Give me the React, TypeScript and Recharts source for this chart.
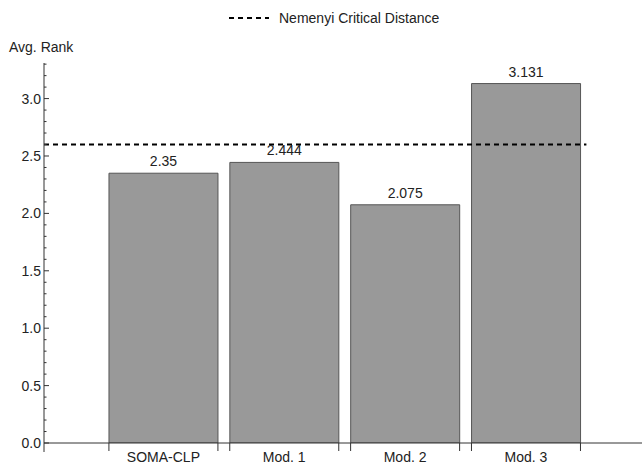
import { BarChart, Bar, XAxis, YAxis, ReferenceLine, LabelList } from 'recharts';

const categories = ['SOMA-CLP', 'Mod. 1', 'Mod. 2', 'Mod. 3'];
const positions = [1, 2, 3, 4];
const avgRank = [2.35, 2.444, 2.075, 3.131];
const criticalDistance = 2.6;
const yTicks = [
    0, 0.1, 0.2, 0.3, 0.4, 0.5, 0.6, 0.7, 0.8, 0.9, 1.0, 1.1, 1.2, 1.3, 1.4, 1.5, 1.6,
    1.7, 1.8, 1.9, 2.0, 2.1, 2.2, 2.3, 2.4, 2.5, 2.6, 2.7, 2.8, 2.9, 3.0, 3.1, 3.2, 3.3,
];

const data = categories.map((name, i) => ({ pos: positions[i], name, rank: avgRank[i] }));

const FONT = 'Liberation Sans, Arial, sans-serif';
const TEXT = '#222';

function XTick({ x, y, payload }: any) {
    const idx = positions.indexOf(payload.value);
    const half = 54.5;
    return (
        <g>
            <line x1={x - half} x2={x - half} y1={y} y2={y + 8} stroke="#333" />
            <line x1={x + half} x2={x + half} y1={y} y2={y + 8} stroke="#333" />
            <text x={x} y={y + 19} textAnchor="middle" fontSize={14} fontFamily={FONT} fill={TEXT}>
                {categories[idx]}
            </text>
        </g>
    );
}

function YTick({ x, y, payload }: any) {
    const v = payload.value;
    const major = Math.abs(v * 2 - Math.round(v * 2)) < 1e-6;
    return (
        <g>
            <line x1={x} x2={x + (major ? 5 : 2.5)} y1={y} y2={y} stroke="#333" />
            {v === 0 && <line x1={x} x2={x} y1={y} y2={y + 9} stroke="#333" />}
            {major && (
                <text x={x - 3} y={y + 5} textAnchor="end" fontSize={14} fontFamily={FONT} fill={TEXT}>
                    {v.toFixed(1)}
                </text>
            )}
        </g>
    );
}

// legend drawn outside recharts so it doesn't eat plot space
function CdLegend() {
    return (
        <div
            style={{
                position: 'absolute', top: 10, left: 229, display: 'flex', alignItems: 'center',
                fontFamily: FONT, fontSize: 14, color: TEXT, lineHeight: '16px',
            }}
        >
            <svg width={40} height={4}>
                <line x1={0} x2={40} y1={2} y2={2} stroke="#000" strokeWidth={2} strokeDasharray="5 4" />
            </svg>
            <span style={{ marginLeft: 10 }}>Nemenyi Critical Distance</span>
        </div>
    );
}

export default function App() {
    return (
        <div style={{ position: 'absolute', left: 0, top: 0, width: 642, height: 465, background: '#fff' }}>
            <BarChart width={642} height={465} data={data} margin={{ top: 63, right: 0, bottom: 0, left: 0 }}>
                <XAxis
                    dataKey="pos"
                    type="number"
                    domain={[0.012, 4.96]}
                    ticks={positions}
                    interval={0}
                    allowDataOverflow
                    height={22}
                    tickSize={0}
                    tickMargin={0}
                    tickLine={false}
                    axisLine={{ stroke: '#333' }}
                    tick={<XTick />}
                />
                <YAxis
                    type="number"
                    domain={[0, 3.31]}
                    ticks={yTicks}
                    interval={0}
                    allowDataOverflow
                    width={44}
                    tickSize={0}
                    tickMargin={0}
                    tickLine={false}
                    axisLine={{ stroke: '#333' }}
                    tick={<YTick />}
                    label={({ viewBox }: any) => (
                        <text x={9} y={viewBox.y - 11} fontSize={14} fontFamily={FONT} fill={TEXT}>
                            Avg. Rank
                        </text>
                    )}
                />
                <Bar dataKey="rank" barSize={109} fill="#999999" stroke="#555" strokeWidth={1} isAnimationActive={false}>
                    <LabelList
                        dataKey="rank"
                        position="top"
                        offset={7}
                        fontSize={14}
                        fontFamily={FONT}
                        fill={TEXT}
                    />
                </Bar>
                <ReferenceLine
                    segment={[
                        { x: 0.012, y: criticalDistance },
                        { x: 4.5, y: criticalDistance },
                    ]}
                    stroke="#000"
                    strokeWidth={2}
                    strokeDasharray="5 4"
                    ifOverflow="visible"
                />
            </BarChart>
            <CdLegend />
        </div>
    );
}
